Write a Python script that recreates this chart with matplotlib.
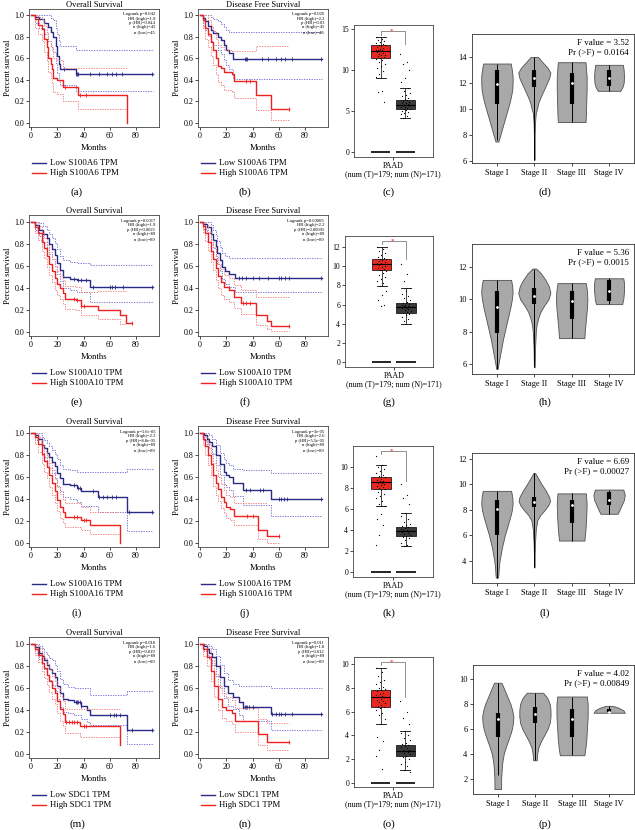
import numpy as np
import matplotlib
matplotlib.use('Agg')
import matplotlib.pyplot as plt
from matplotlib.lines import Line2D

plt.rcParams['font.family'] = 'Liberation Serif'

nan = np.nan

# ---------------- Kaplan-Meier data (months, survival) ----------------
# (a) OS S100A6
a_low_t = [0, 3, 6, 10, 13, 15, 17, 19, 20, 21, 22, 34, 93]
a_low_s = [1.0, 0.98, 0.96, 0.93, 0.89, 0.84, 0.80, 0.71, 0.62, 0.55, 0.50, 0.45, 0.45]
a_low_up = [1.0, 1.0, 1.0, 1.0, 1.0, 0.97, 0.95, 0.88, 0.82, 0.76, 0.71, 0.68, 0.68]
a_low_lo = [1.0, 0.93, 0.88, 0.82, 0.76, 0.70, 0.66, 0.56, 0.46, 0.40, 0.35, 0.30, 0.30]
a_low_cens = [25, 34, 35, 36, 45, 52, 58, 62, 65, 69, 92]
a_high_t = [0, 3, 5, 8, 10, 12, 13, 15, 16, 17, 20, 24, 36, 73]
a_high_s = [1.0, 0.96, 0.91, 0.87, 0.78, 0.70, 0.60, 0.55, 0.50, 0.42, 0.40, 0.33, 0.26, 0.0]
a_high_up = [1.0, 1.0, 0.98, 0.96, 0.90, 0.84, 0.76, 0.71, 0.67, 0.60, 0.58, 0.51, 0.51, nan]
a_high_lo = [1.0, 0.88, 0.82, 0.76, 0.66, 0.58, 0.47, 0.42, 0.37, 0.29, 0.27, 0.20, 0.13, nan]
a_high_cens = [26, 37, 42]
a_stats = ['Logrank p=0.042', 'HR (high)=1.9', 'p (HR)=0.044', 'n (high)=45', 'n (low)=45']

# (b) DFS S100A6
b_low_t = [0, 2, 4, 6, 8, 10, 14, 16, 18, 20, 22, 25, 93]
b_low_s = [1.0, 0.97, 0.94, 0.90, 0.86, 0.83, 0.80, 0.77, 0.72, 0.68, 0.65, 0.59, 0.59]
b_low_up = [1.0, 1.0, 1.0, 1.0, 0.98, 0.96, 0.94, 0.92, 0.89, 0.86, 0.84, 0.84, 0.84]
b_low_lo = [1.0, 0.90, 0.86, 0.81, 0.76, 0.72, 0.68, 0.64, 0.58, 0.54, 0.50, 0.41, 0.41]
b_low_cens = [34, 35, 36, 47, 52, 58, 62, 65, 70, 92]
b_high_t = [0, 2, 4, 6, 8, 10, 12, 14, 16, 18, 24, 26, 43, 54, 68]
b_high_s = [1.0, 0.95, 0.88, 0.82, 0.75, 0.68, 0.60, 0.53, 0.51, 0.47, 0.45, 0.39, 0.26, 0.13, 0.13]
b_high_up = [1.0, 1.0, 1.0, 0.95, 0.90, 0.85, 0.78, 0.72, 0.70, 0.68, 0.67, 0.67, 0.71, 0.71, 0.71]
b_high_lo = [1.0, 0.88, 0.78, 0.70, 0.62, 0.54, 0.45, 0.38, 0.35, 0.31, 0.29, 0.23, 0.12, 0.03, 0.03]
b_high_cens = [35, 38, 68]
b_stats = ['Logrank p=0.026', 'HR (high)=2.2', 'p (HR)=0.03', 'n (high)=45', 'n (low)=45']

# (e) OS S100A10
e_low_t = [0, 3, 6, 9, 12, 14, 16, 18, 20, 22, 24, 30, 35, 45, 93]
e_low_s = [1.0, 0.97, 0.93, 0.89, 0.85, 0.80, 0.75, 0.70, 0.63, 0.56, 0.50, 0.48, 0.47, 0.41, 0.41]
e_low_up = [1.0, 1.0, 0.99, 0.96, 0.93, 0.89, 0.85, 0.81, 0.75, 0.69, 0.65, 0.64, 0.63, 0.61, 0.61]
e_low_lo = [1.0, 0.93, 0.87, 0.82, 0.77, 0.71, 0.66, 0.60, 0.53, 0.46, 0.40, 0.38, 0.36, 0.27, 0.27]
e_low_cens = [33, 36, 38, 42, 47, 60, 62, 64, 70, 92]
e_high_t = [0, 3, 5, 8, 10, 12, 14, 16, 18, 20, 22, 24, 26, 34, 38, 51, 68, 72, 77]
e_high_s = [1.0, 0.95, 0.90, 0.82, 0.76, 0.69, 0.62, 0.55, 0.49, 0.44, 0.40, 0.35, 0.30, 0.29, 0.24, 0.20, 0.15, 0.08, 0.08]
e_high_up = [1.0, 1.0, 0.96, 0.90, 0.85, 0.79, 0.73, 0.66, 0.60, 0.55, 0.51, 0.47, 0.42, 0.41, 0.36, 0.37, 0.37, nan, nan]
e_high_lo = [1.0, 0.90, 0.84, 0.74, 0.67, 0.59, 0.52, 0.45, 0.38, 0.34, 0.30, 0.25, 0.21, 0.20, 0.15, 0.12, 0.07, nan, nan]
e_high_cens = [33, 35, 38, 40, 77]
e_stats = ['Logrank p=0.0017', 'HR (high)=1.9', 'p (HR)=0.0021', 'n (high)=89', 'n (low)=89']

# (f) DFS S100A10
f_low_t = [0, 2, 5, 8, 10, 12, 13, 15, 17, 19, 22, 27, 93]
f_low_s = [1.0, 0.98, 0.95, 0.89, 0.84, 0.78, 0.72, 0.65, 0.59, 0.55, 0.53, 0.49, 0.49]
f_low_up = [1.0, 1.0, 1.0, 0.97, 0.93, 0.88, 0.83, 0.77, 0.72, 0.69, 0.67, 0.67, 0.67]
f_low_lo = [1.0, 0.94, 0.90, 0.82, 0.76, 0.69, 0.62, 0.55, 0.48, 0.44, 0.41, 0.36, 0.36]
f_low_cens = [30, 32, 35, 40, 45, 52, 60, 62, 65, 68, 92]
f_high_t = [0, 2, 4, 6, 8, 10, 12, 14, 16, 18, 22, 26, 31, 40, 43, 51, 54, 68]
f_high_s = [1.0, 0.96, 0.90, 0.82, 0.74, 0.66, 0.58, 0.51, 0.45, 0.41, 0.38, 0.32, 0.26, 0.26, 0.15, 0.10, 0.05, 0.05]
f_high_up = [1.0, 1.0, 0.97, 0.91, 0.84, 0.77, 0.69, 0.62, 0.57, 0.52, 0.49, 0.43, 0.38, 0.38, 0.32, 0.32, 0.32, 0.32]
f_high_lo = [1.0, 0.91, 0.83, 0.74, 0.64, 0.56, 0.47, 0.40, 0.34, 0.30, 0.27, 0.22, 0.16, 0.16, 0.06, 0.03, 0.01, 0.01]
f_high_cens = [33, 35, 38, 68]
f_stats = ['Logrank p=0.00069', 'HR (high)=2.2', 'p (HR)=0.00095', 'n (high)=89', 'n (low)=89']

# (i) OS S100A16
i_low_t = [0, 3, 5, 8, 10, 12, 14, 16, 18, 20, 22, 24, 30, 35, 38, 51, 73, 93]
i_low_s = [1.0, 0.98, 0.95, 0.89, 0.86, 0.82, 0.78, 0.74, 0.70, 0.64, 0.59, 0.54, 0.53, 0.50, 0.47, 0.42, 0.28, 0.28]
i_low_up = [1.0, 1.0, 1.0, 0.96, 0.94, 0.91, 0.88, 0.85, 0.81, 0.76, 0.71, 0.67, 0.66, 0.65, 0.65, 0.65, 0.67, 0.67]
i_low_lo = [1.0, 0.94, 0.90, 0.82, 0.78, 0.73, 0.68, 0.64, 0.59, 0.52, 0.47, 0.42, 0.40, 0.37, 0.34, 0.28, 0.11, 0.11]
i_low_cens = [33, 36, 37, 47, 52, 55, 58, 62, 65, 75, 92]
i_high_t = [0, 3, 5, 8, 10, 12, 14, 16, 18, 20, 22, 24, 26, 38, 45, 68]
i_high_s = [1.0, 0.96, 0.90, 0.81, 0.75, 0.69, 0.62, 0.55, 0.47, 0.39, 0.33, 0.28, 0.24, 0.21, 0.16, 0.0]
i_high_up = [1.0, 1.0, 0.96, 0.89, 0.84, 0.79, 0.73, 0.66, 0.58, 0.51, 0.45, 0.40, 0.36, 0.33, 0.28, nan]
i_high_lo = [1.0, 0.90, 0.83, 0.72, 0.65, 0.59, 0.51, 0.44, 0.36, 0.29, 0.23, 0.18, 0.15, 0.12, 0.08, nan]
i_high_cens = [33, 35, 40, 42]
i_stats = ['Logrank p=5.6e-05', 'HR (high)=2.3', 'p (HR)=8.8e-05', 'n (high)=89', 'n (low)=89']

# (j) DFS S100A16
j_low_t = [0, 3, 5, 7, 9, 12, 15, 18, 20, 22, 25, 33, 54, 93]
j_low_s = [1.0, 0.98, 0.95, 0.92, 0.88, 0.80, 0.72, 0.65, 0.62, 0.60, 0.55, 0.48, 0.40, 0.40]
j_low_up = [1.0, 1.0, 1.0, 0.98, 0.95, 0.89, 0.82, 0.76, 0.73, 0.71, 0.67, 0.66, 0.64, 0.64]
j_low_lo = [1.0, 0.94, 0.90, 0.86, 0.81, 0.71, 0.62, 0.54, 0.51, 0.48, 0.43, 0.35, 0.25, 0.25]
j_low_cens = [35, 38, 46, 48, 60, 62, 64, 66, 92]
j_high_t = [0, 2, 4, 6, 8, 10, 12, 14, 16, 18, 20, 23, 26, 44, 51, 60]
j_high_s = [1.0, 0.95, 0.88, 0.80, 0.72, 0.62, 0.55, 0.49, 0.42, 0.37, 0.33, 0.31, 0.25, 0.12, 0.06, 0.06]
j_high_up = [1.0, 1.0, 0.96, 0.90, 0.82, 0.73, 0.66, 0.60, 0.54, 0.48, 0.44, 0.42, 0.36, 0.36, nan, nan]
j_high_lo = [1.0, 0.89, 0.80, 0.71, 0.62, 0.52, 0.44, 0.38, 0.32, 0.27, 0.23, 0.21, 0.16, 0.04, 0.0, nan]
j_high_cens = [36, 40, 60]
j_stats = ['Logrank p=3e-05', 'HR (high)=2.6', 'p (HR)=5.5e-05', 'n (high)=89', 'n (low)=89']

# (m) OS SDC1
m_low_t = [0, 3, 6, 8, 10, 12, 14, 16, 18, 20, 22, 24, 28, 33, 38, 43, 45, 73, 93]
m_low_s = [1.0, 0.97, 0.92, 0.89, 0.85, 0.81, 0.77, 0.74, 0.70, 0.62, 0.55, 0.50, 0.49, 0.47, 0.44, 0.40, 0.35, 0.22, 0.22]
m_low_up = [1.0, 1.0, 0.98, 0.96, 0.93, 0.90, 0.87, 0.85, 0.81, 0.75, 0.68, 0.64, 0.61, 0.60, 0.60, 0.60, 0.54, 0.57, 0.57]
m_low_lo = [1.0, 0.92, 0.86, 0.82, 0.77, 0.72, 0.67, 0.63, 0.58, 0.50, 0.43, 0.38, 0.37, 0.35, 0.32, 0.29, 0.26, 0.09, 0.09]
m_low_cens = [34, 35, 36, 37, 38, 60, 63, 65, 68, 77, 92]
m_high_t = [0, 3, 5, 8, 10, 12, 14, 16, 18, 20, 22, 24, 26, 37, 68]
m_high_s = [1.0, 0.95, 0.90, 0.83, 0.78, 0.72, 0.66, 0.60, 0.55, 0.48, 0.41, 0.36, 0.29, 0.25, 0.08]
m_high_up = [1.0, 1.0, 0.96, 0.91, 0.87, 0.82, 0.77, 0.71, 0.66, 0.60, 0.53, 0.48, 0.41, 0.41, nan]
m_high_lo = [1.0, 0.90, 0.84, 0.75, 0.69, 0.63, 0.56, 0.50, 0.45, 0.37, 0.30, 0.25, 0.19, 0.15, nan]
m_high_cens = [27, 29, 31, 33, 35, 40, 42]
m_stats = ['Logrank p=0.018', 'HR (high)=1.6', 'p (HR)=0.019', 'n (high)=89', 'n (low)=89']

# (n) DFS SDC1
n_low_t = [0, 3, 5, 7, 9, 12, 15, 18, 21, 25, 30, 33, 54, 93]
n_low_s = [1.0, 0.98, 0.95, 0.92, 0.88, 0.80, 0.70, 0.62, 0.55, 0.52, 0.47, 0.43, 0.36, 0.36]
n_low_up = [1.0, 1.0, 1.0, 0.98, 0.95, 0.89, 0.81, 0.74, 0.67, 0.64, 0.62, 0.62, 0.60, 0.60]
n_low_lo = [1.0, 0.94, 0.90, 0.86, 0.81, 0.71, 0.60, 0.51, 0.44, 0.41, 0.35, 0.30, 0.22, 0.22]
n_low_cens = [33, 34, 35, 36, 37, 40, 55, 58, 60, 62, 65, 70, 92]
n_high_t = [0, 2, 5, 8, 11, 14, 17, 20, 24, 27, 44, 51, 68]
n_high_s = [1.0, 0.95, 0.88, 0.75, 0.62, 0.50, 0.43, 0.40, 0.37, 0.30, 0.18, 0.11, 0.11]
n_high_up = [1.0, 1.0, 0.96, 0.85, 0.73, 0.62, 0.55, 0.52, 0.49, 0.42, 0.32, 0.28, 0.28]
n_high_lo = [1.0, 0.89, 0.80, 0.66, 0.52, 0.40, 0.33, 0.30, 0.27, 0.20, 0.08, 0.04, 0.04]
n_high_cens = [68]
n_stats = ['Logrank p=0.011', 'HR (high)=1.8', 'p (HR)=0.012', 'n (high)=89', 'n (low)=89']

genes = ['S100A6', 'S100A10', 'S100A16', 'SDC1']

# ---------------- GEPIA box plots: [whislo, q1, med, q3, whishi] ----------------
c_tumor = [9.0, 11.5, 12.3, 13.0, 14.0]
c_normal = [4.2, 5.3, 5.8, 6.3, 7.8]
c_tumor_pts = [14.0, 13.8, 13.7, 13.5, 13.4, 13.3, 13.2, 13.1, 13.0, 12.9, 12.8, 12.7, 12.6, 12.5,
               12.5, 12.4, 12.3, 12.3, 12.2, 12.1, 12.0, 11.9, 11.8, 11.7, 11.6, 11.5, 11.4, 11.2,
               11.0, 10.8, 10.5, 10.2, 9.9, 9.5, 9.2, 7.5, 7.3, 6.1]
c_normal_pts = [12.0, 11.0, 10.8, 10.0, 9.0, 8.5, 7.8, 7.5, 7.2, 7.0, 6.8, 6.6, 6.5, 6.4, 6.3, 6.2,
                6.1, 6.0, 6.0, 5.9, 5.8, 5.8, 5.7, 5.7, 5.6, 5.5, 5.5, 5.4, 5.3, 5.2, 5.1, 5.0, 4.9,
                4.8, 4.6, 4.4, 4.2]

g_tumor = [7.9, 9.6, 10.2, 10.7, 12.0]
g_normal = [4.0, 5.1, 5.7, 6.2, 7.7]
g_tumor_pts = [12.0, 11.8, 11.6, 11.4, 11.2, 11.0, 10.9, 10.8, 10.7, 10.6, 10.5, 10.4, 10.3, 10.3,
               10.2, 10.1, 10.0, 9.9, 9.8, 9.7, 9.6, 9.5, 9.3, 9.1, 8.9, 8.7, 8.5, 8.2, 7.9, 7.4,
               7.0, 6.5, 6.0, 5.8]
g_normal_pts = [10.2, 9.2, 8.5, 7.7, 7.4, 7.1, 6.9, 6.7, 6.5, 6.3, 6.2, 6.1, 6.0, 5.9, 5.8, 5.8,
                5.7, 5.6, 5.6, 5.5, 5.4, 5.3, 5.2, 5.1, 5.0, 4.9, 4.7, 4.5, 4.3, 4.0]

k_tumor = [6.3, 7.9, 8.6, 9.0, 10.2]
k_normal = [2.5, 3.4, 3.9, 4.3, 5.6]
k_tumor_pts = [11.0, 10.2, 10.0, 9.8, 9.6, 9.4, 9.2, 9.1, 9.0, 8.9, 8.8, 8.7, 8.7, 8.6, 8.5, 8.5,
               8.4, 8.3, 8.2, 8.1, 8.0, 7.9, 7.8, 7.6, 7.4, 7.2, 7.0, 6.8, 6.5, 6.3, 5.5, 5.0, 4.5,
               3.5, 2.6]
k_normal_pts = [8.4, 7.3, 7.0, 6.5, 5.6, 5.3, 5.0, 4.8, 4.6, 4.5, 4.4, 4.3, 4.2, 4.1, 4.0, 4.0,
                3.9, 3.9, 3.8, 3.7, 3.6, 3.5, 3.4, 3.3, 3.2, 3.0, 2.8, 2.6, 2.5]

o_tumor = [5.0, 6.4, 7.2, 7.8, 9.7]
o_normal = [1.1, 2.3, 2.7, 3.2, 4.4]
o_tumor_pts = [9.7, 9.3, 9.0, 8.7, 8.5, 8.3, 8.1, 8.0, 7.9, 7.8, 7.7, 7.6, 7.5, 7.4, 7.3, 7.2,
               7.2, 7.1, 7.0, 6.9, 6.8, 6.7, 6.6, 6.5, 6.4, 6.3, 6.1, 5.9, 5.7, 5.4, 5.0, 3.9,
               3.5, 2.8, 2.3, 1.2]
o_normal_pts = [6.9, 6.0, 5.5, 5.0, 4.4, 4.2, 4.0, 3.8, 3.6, 3.4, 3.3, 3.2, 3.1, 3.0, 2.9, 2.8,
                2.8, 2.7, 2.7, 2.6, 2.5, 2.4, 2.3, 2.2, 2.0, 1.8, 1.6, 1.4, 1.1, 0.9]

# ---------------- Stage violins: profile levels, half widths, box stats ----------------
stages = ['Stage I', 'Stage II', 'Stage III', 'Stage IV']

d_prof_y = [[13.5, 13.0, 12.5, 12.0, 11.5, 11.0, 10.5, 10.0, 9.5, 9.0, 8.5, 8.0, 7.5],
            [14.0, 13.6, 13.2, 12.8, 12.4, 12.0, 11.5, 11.0, 10.5, 10.0, 9.7, 9.0, 8.0, 7.0, 6.1],
            [13.6, 12.5, 11.5, 10.5, 9.5, 9.0],
            [13.4, 13.0, 12.5, 12.0, 11.7, 11.4]]
d_prof_w = [[0.37, 0.40, 0.42, 0.42, 0.41, 0.38, 0.34, 0.29, 0.24, 0.19, 0.14, 0.09, 0.04],
            [0.10, 0.22, 0.35, 0.43, 0.40, 0.34, 0.26, 0.18, 0.11, 0.07, 0.04, 0.02, 0.01, 0.01, 0.01],
            [0.37, 0.40, 0.40, 0.39, 0.38, 0.37],
            [0.37, 0.39, 0.40, 0.39, 0.36, 0.30]]
d_box = [[7.6, 10.4, 11.9, 13.0, 13.5], [6.1, 11.7, 12.4, 13.0, 14.0],
         [9.0, 10.4, 12.0, 12.8, 13.6], [11.4, 11.8, 12.4, 13.0, 13.4]]
d_f = ['F value = 3.52', 'Pr (>F) = 0.0164']

h_prof_y = [[11.2, 10.8, 10.4, 10.0, 9.5, 9.0, 8.5, 8.0, 7.5, 7.0, 6.5, 6.0, 5.7],
            [11.9, 11.6, 11.2, 10.8, 10.4, 10.0, 9.6, 9.2, 8.8, 8.4, 8.0, 7.0, 5.8],
            [11.0, 10.5, 10.0, 9.5, 9.0, 8.5, 8.0, 7.6],
            [11.3, 11.0, 10.5, 10.0, 9.7]]
h_prof_w = [[0.38, 0.41, 0.42, 0.40, 0.36, 0.31, 0.26, 0.21, 0.16, 0.12, 0.08, 0.04, 0.02],
            [0.05, 0.18, 0.30, 0.39, 0.43, 0.38, 0.26, 0.16, 0.10, 0.06, 0.04, 0.02, 0.01],
            [0.38, 0.41, 0.42, 0.41, 0.39, 0.37, 0.35, 0.34],
            [0.38, 0.40, 0.40, 0.38, 0.35]]
h_box = [[5.7, 7.9, 9.5, 10.5, 11.2], [5.8, 9.7, 10.2, 10.7, 11.9],
         [7.6, 8.8, 9.9, 10.5, 11.0], [9.7, 9.9, 10.5, 11.2, 11.3]]
h_f = ['F value = 5.36', 'Pr (>F) = 0.0015']

l_prof_y = [[9.5, 9.0, 8.5, 8.0, 7.5, 7.0, 6.5, 6.0, 5.5, 5.0, 4.5, 4.0, 3.5, 3.0, 2.7],
            [10.9, 10.5, 10.0, 9.5, 9.0, 8.7, 8.4, 8.0, 7.6, 7.2, 6.5, 5.5, 4.5, 3.5],
            [9.3, 8.5, 7.5, 6.5, 5.6],
            [9.6, 9.2, 8.8, 8.4, 8.0, 7.7]]
l_prof_w = [[0.38, 0.41, 0.42, 0.40, 0.36, 0.31, 0.26, 0.21, 0.17, 0.13, 0.10, 0.07, 0.05, 0.04, 0.03],
            [0.02, 0.10, 0.20, 0.31, 0.40, 0.42, 0.38, 0.28, 0.16, 0.08, 0.04, 0.02, 0.01, 0.01],
            [0.38, 0.40, 0.39, 0.37, 0.34],
            [0.38, 0.42, 0.40, 0.34, 0.28, 0.23]]
l_box = [[2.7, 6.0, 8.1, 8.8, 9.5], [3.5, 8.2, 8.6, 9.0, 10.9],
         [5.6, 7.0, 8.4, 8.8, 9.3], [7.7, 8.4, 8.8, 9.4, 9.6]]
l_f = ['F value = 6.69', 'Pr (>F) = 0.00027']

p_prof_y = [[9.7, 9.0, 8.5, 8.0, 7.5, 7.0, 6.5, 6.0, 5.5, 5.0, 4.5, 4.0, 3.5, 3.0, 2.5, 2.0, 1.5, 1.2],
            [8.9, 8.5, 8.0, 7.5, 7.0, 6.5, 6.0, 5.5, 5.0, 4.5, 4.0, 3.5],
            [8.6, 8.0, 7.0, 6.0, 5.0, 4.5, 3.9],
            [7.85, 7.7, 7.5, 7.3]]
p_prof_w = [[0.10, 0.20, 0.27, 0.34, 0.39, 0.42, 0.41, 0.38, 0.33, 0.27, 0.21, 0.16, 0.13, 0.11, 0.10, 0.09, 0.09, 0.09],
            [0.22, 0.33, 0.40, 0.42, 0.42, 0.40, 0.34, 0.25, 0.16, 0.09, 0.06, 0.05],
            [0.40, 0.42, 0.42, 0.40, 0.38, 0.36, 0.33],
            [0.10, 0.25, 0.38, 0.42]]
p_box = [[2.3, 5.4, 6.8, 7.3, 9.7], [3.5, 6.5, 7.2, 7.8, 8.9],
         [3.9, 5.4, 6.8, 7.6, 8.6], [7.3, 7.35, 7.4, 7.6, 7.85]]
p_f = ['F value = 4.02', 'Pr (>F) = 0.00849']

# ---------------- figure ----------------
W, H = 635, 830
fig = plt.figure(figsize=(W / 100, H / 100), dpi=100)

BLUE = '#2b2b85'
RED = '#ee2020'
BLUE_CI = '#6a6ad6'
RED_CI = '#f27272'
DOT = (0, (1.6, 1.4))


def add_ax(l, t, r, b):
    return fig.add_axes([l / W, 1 - b / H, (r - l) / W, (b - t) / H])


def fig_text(x, y, s, **kw):
    fig.text(x / W, 1 - y / H, s, **kw)


def draw_curve(ax, t, s, up, lo, cens, color, ci_color):
    ax.step(t, up, where='post', color=ci_color, lw=0.6, ls=DOT)
    ax.step(t, lo, where='post', color=ci_color, lw=0.6, ls=DOT)
    ax.step(t, s, where='post', color=color, lw=1.0)
    idx = np.searchsorted(t, cens, side='right') - 1
    ax.plot(cens, np.asarray(s)[idx], ls='none', marker='|', ms=3.5, mew=0.6, color=color)


def km_panel(ax, title, low, high, stats):
    draw_curve(ax, *low, BLUE, BLUE_CI)
    draw_curve(ax, *high, RED, RED_CI)
    ax.set_xlim(-1.5, 97.5)
    ax.set_ylim(-0.04, 1.06)
    ax.set_xticks([0, 20, 40, 60, 80])
    ax.set_yticks([0, 0.2, 0.4, 0.6, 0.8, 1.0])
    ax.set_yticklabels(['0.0', '0.2', '0.4', '0.6', '0.8', '1.0'])
    ax.tick_params(labelsize=5.8, length=2, width=0.5, pad=1.5)
    for sp in ax.spines.values():
        sp.set_linewidth(0.6)
        sp.set_color('#444444')
    ax.set_title(title, fontsize=6, pad=1.0)
    ax.set_xlabel('Months', fontsize=6.2, labelpad=3)
    ax.set_ylabel('Percent survival', fontsize=6.2, labelpad=2)
    ax.text(0.97, 0.97, '\n'.join(stats), transform=ax.transAxes, ha='right', va='top',
            fontsize=3.3, linespacing=1.15, multialignment='right')


def km_legend(x, y, gene):
    for dy, color, label in [(0, BLUE, 'Low %s TPM' % gene), (10, RED, 'High %s TPM' % gene)]:
        fig.add_artist(Line2D([x / W, (x + 14) / W], [1 - (y + dy) / H] * 2, color=color, lw=1.0))
        fig_text(x + 18, y + dy, label, fontsize=6.3, va='center')


def box_panel(ax, tumor, normal, tumor_pts, normal_pts, xlim, ylim, yticks, bracket):
    stats = []
    for v in (tumor, normal):
        stats.append(dict(whislo=v[0], q1=v[1], med=v[2], q3=v[3], whishi=v[4], fliers=[]))
    bp = ax.bxp(stats, positions=[1, 2], widths=0.8, patch_artist=True, showfliers=False,
                boxprops=dict(lw=0.5), medianprops=dict(color='k', lw=0.8),
                whiskerprops=dict(lw=0.5), capprops=dict(lw=0.6))
    bp['boxes'][0].set_facecolor('#e8281e')
    bp['boxes'][1].set_facecolor('#3a3a3a')
    for pos, pts in ((1, tumor_pts), (2, normal_pts)):
        jit = ((np.arange(len(pts)) * 0.618034) % 1 - 0.5) * 0.4
        ax.scatter(pos + jit, pts, s=0.8, color='k', zorder=4, linewidths=0)
        ax.hlines(0, pos - 0.4, pos + 0.4, color='k', lw=1.2)
    yb, yl, yr = bracket
    ax.plot([1, 1, 2, 2], [yl, yb, yb, yr], color='#808080', lw=0.6)
    ax.text(1.45, yb, '*', color='red', fontsize=5, ha='center', va='center')
    ax.set_xlim(*xlim)
    ax.set_ylim(*ylim)
    ax.set_yticks(yticks)
    ax.set_xticks([1.5])
    ax.set_xticklabels(['PAAD\n(num (T)=179; num (N)=171)'], fontsize=5.8, linespacing=1.0)
    ax.tick_params(labelsize=5.5, length=2, width=0.5, pad=1.5)
    ax.tick_params(axis='x', labelsize=5.8)
    for sp in ax.spines.values():
        sp.set_linewidth(0.6)
        sp.set_color('#444444')


def violin_panel(ax, prof_y, prof_w, boxes, ftext, ylim, yticks):
    for pos, (y, w, b) in enumerate(zip(prof_y, prof_w, boxes)):
        y = np.asarray(y)
        w = np.asarray(w)
        ax.fill_betweenx(y, pos - w, pos + w, facecolor='#a8a8a8', edgecolor='#505050', lw=0.6)
        ax.vlines(pos, b[0], b[4], color='k', lw=0.7)
        ax.vlines(pos, b[1], b[3], color='k', lw=3.0)
        ax.plot(pos, b[2], marker='o', color='white', ms=2.0, mec='none')
    ax.set_xlim(-0.667, 3.667)
    ax.set_ylim(*ylim)
    ax.set_yticks(yticks)
    ax.set_xticks(range(4))
    ax.set_xticklabels(stages)
    ax.tick_params(labelsize=6, length=2, width=0.5, pad=2)
    for sp in ax.spines.values():
        sp.set_linewidth(0.6)
        sp.set_color('#333333')
    ax.text(0.97, 0.96, '\n'.join(ftext), transform=ax.transAxes, ha='right', va='top',
            fontsize=6.5, linespacing=1.1, multialignment='right')


# Kaplan-Meier panels
km_rows = [
    (a_low_t, a_low_s, a_low_up, a_low_lo, a_low_cens, a_high_t, a_high_s, a_high_up, a_high_lo, a_high_cens, a_stats,
     b_low_t, b_low_s, b_low_up, b_low_lo, b_low_cens, b_high_t, b_high_s, b_high_up, b_high_lo, b_high_cens, b_stats),
    (e_low_t, e_low_s, e_low_up, e_low_lo, e_low_cens, e_high_t, e_high_s, e_high_up, e_high_lo, e_high_cens, e_stats,
     f_low_t, f_low_s, f_low_up, f_low_lo, f_low_cens, f_high_t, f_high_s, f_high_up, f_high_lo, f_high_cens, f_stats),
    (i_low_t, i_low_s, i_low_up, i_low_lo, i_low_cens, i_high_t, i_high_s, i_high_up, i_high_lo, i_high_cens, i_stats,
     j_low_t, j_low_s, j_low_up, j_low_lo, j_low_cens, j_high_t, j_high_s, j_high_up, j_high_lo, j_high_cens, j_stats),
    (m_low_t, m_low_s, m_low_up, m_low_lo, m_low_cens, m_high_t, m_high_s, m_high_up, m_high_lo, m_high_cens, m_stats,
     n_low_t, n_low_s, n_low_up, n_low_lo, n_low_cens, n_high_t, n_high_s, n_high_up, n_high_lo, n_high_cens, n_stats),
]

row_y1 = [15, 222, 433, 644]      # pixel row of survival 1.0
legend_y = [163, 373, 584, 795]
label_y = [192, 402, 613, 824]
col_x0 = [31, 200]                # pixel column of month 0
letters = ['abcd', 'efgh', 'ijkl', 'mnop']
titles = ['Overall Survival', 'Disease Free Survival']

for r, row in enumerate(km_rows):
    y1 = row_y1[r]
    y0 = y1 + 110 if r else 123   # pixel row of survival 0.0
    unit = y0 - y1
    for c in range(2):
        d = row[c * 11:(c + 1) * 11]
        x0 = col_x0[c]
        ax = add_ax(x0 - 1.5 * 1.3125, y1 - 0.06 * unit, x0 + 97.5 * 1.3125, y0 + 0.04 * unit)
        km_panel(ax, titles[c], d[0:5], d[5:10], d[10])
        km_legend(x0 + 1, legend_y[r], genes[r])

# Box panels
box_panel(add_ax(354, 25, 433, 157), c_tumor, c_normal, c_tumor_pts, c_normal_pts,
          (-0.06, 3.1), (-0.6, 15.5), [0, 5, 10, 15], (14.8, 14.3, 13.2))
box_panel(add_ax(345, 236, 433, 367), g_tumor, g_normal, g_tumor_pts, g_normal_pts,
          (-0.5, 3.1), (-0.52, 13.15), [0, 2, 4, 6, 8, 10, 12], (12.6, 12.3, 10.7))
box_panel(add_ax(353, 446, 433, 577), k_tumor, k_normal, k_tumor_pts, k_normal_pts,
          (-0.1, 3.1), (-0.48, 12.0), [0, 2, 4, 6, 8, 10], (11.5, 11.2, 8.7))
box_panel(add_ax(354, 657, 433, 787), o_tumor, o_normal, o_tumor_pts, o_normal_pts,
          (-0.06, 3.1), (-0.34, 10.6), [0, 2, 4, 6, 8, 10], (10.2, 9.9, 7.2))

# Violin panels
violin_panel(add_ax(472, 34, 634, 163), d_prof_y, d_prof_w, d_box, d_f, (5.85, 15.77), [6, 8, 10, 12, 14])
violin_panel(add_ax(472, 244, 634, 374), h_prof_y, h_prof_w, h_box, h_f, (5.38, 13.42), [6, 8, 10, 12])
violin_panel(add_ax(472, 453, 634, 583), l_prof_y, l_prof_w, l_box, l_f, (2.27, 12.47), [4, 6, 8, 10, 12])
violin_panel(add_ax(473, 665, 634, 794), p_prof_y, p_prof_w, p_box, p_f, (0.8, 11.12), [2, 4, 6, 8, 10])

# panel letters
label_x = [77, 245, 389, 545]
for r in range(4):
    for c in range(4):
        fig_text(label_x[c], label_y[r], '(%s)' % letters[r][c], fontsize=8, ha='center', va='center')

fig.savefig('out.png', dpi=100)
